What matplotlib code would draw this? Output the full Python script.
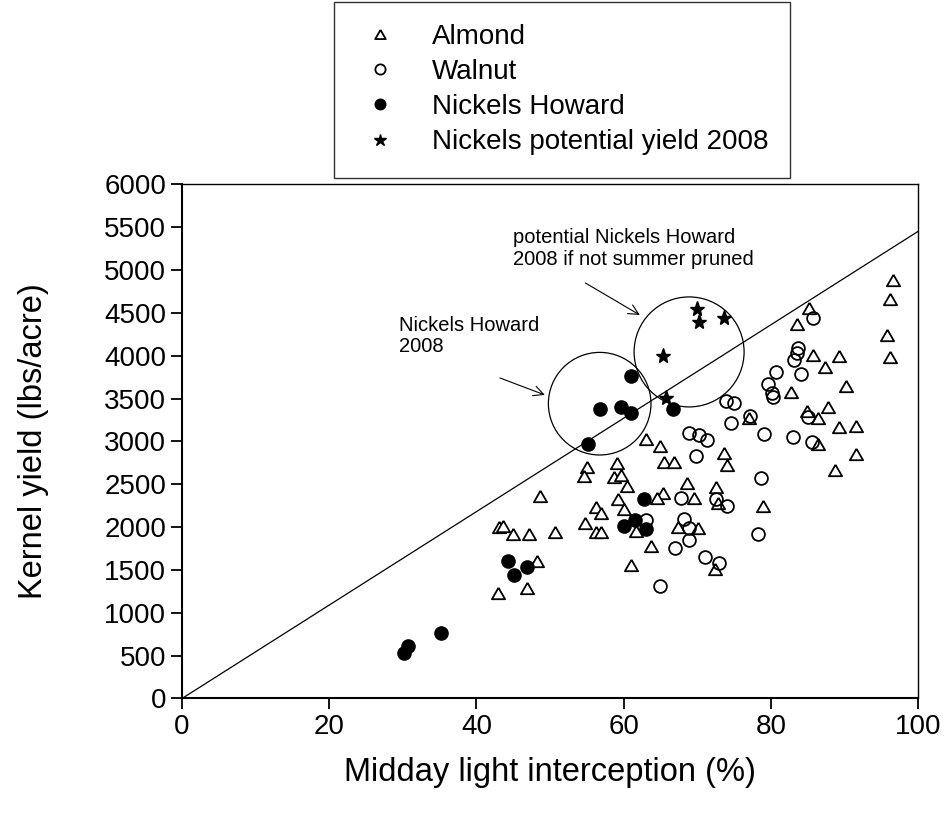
import matplotlib
matplotlib.use("Agg")
import matplotlib.pyplot as plt
from matplotlib.patches import Ellipse
import numpy as np

plt.rcParams["font.family"] = ["Liberation Sans", "DejaVu Sans"]

# Almond (open triangles)
almond_x = [96.6, 96.2, 85.2, 83.5, 95.8, 96.2, 85.8, 89.3, 87.4, 90.2, 82.7,
            87.8, 84.9, 86.4, 77.1, 89.3, 91.6, 86.4, 91.6, 88.7, 78.9,
            63.0, 65.0, 65.5, 66.8, 73.7, 74.1, 55.0, 54.6, 59.1, 58.7, 59.7,
            60.4, 68.6, 72.5, 65.4, 64.6, 69.6, 59.3, 56.3, 56.9, 60.1, 54.8,
            56.3, 56.9, 61.7, 67.4, 70.1, 72.8, 63.7, 61.0, 72.4,
            48.7, 43.1, 43.6, 45.0, 47.1, 50.7, 48.2, 42.9, 46.9]
almond_y = [4880, 4659, 4557, 4370, 4242, 3989, 4009, 4000, 3872, 3650, 3573,
            3398, 3359, 3270, 3277, 3172, 3180, 2970, 2850, 2667, 2246,
            3025, 2950, 2756, 2760, 2861, 2720, 2705, 2597, 2752, 2589, 2608,
            2480, 2511, 2472, 2395, 2343, 2343, 2325, 2231, 2168, 2208, 2044,
            1947, 1947, 1955, 2005, 1986, 2278, 1780, 1558, 1508,
            2363, 2005, 2013, 1916, 1916, 1947, 1608, 1235, 1286]

# Walnut (open circles)
walnut_x = [85.8, 83.7, 83.6, 83.2, 80.7, 84.1, 79.6, 80.1, 80.3, 77.2, 79.1,
            83.0, 85.6, 85.1, 78.7, 73.9, 75.0, 74.6, 68.9, 70.3, 71.4, 69.9,
            67.8, 72.6, 74.0, 63.0, 68.2, 68.9, 68.9, 67.0, 71.0, 73.0, 64.9,
            78.2]
walnut_y = [4444, 4087, 4036, 3950, 3814, 3784, 3667, 3569, 3522, 3300, 3087,
            3052, 2990, 3282, 2570, 3472, 3445, 3219, 3095, 3075, 3017, 2830,
            2336, 2325, 2246, 2083, 2091, 1986, 1850, 1753, 1655, 1585, 1316,
            1920]

# Nickels Howard (filled circles)
nickels_x = [30.2, 30.7, 35.2, 44.3, 45.1, 46.9, 55.1, 56.8, 59.6, 61.0, 61.0,
             66.7, 62.8, 60.1, 61.6, 63.1]
nickels_y = [527, 613, 768, 1600, 1441, 1531, 2970, 3378, 3398, 3328, 3764,
             3375, 2325, 2013, 2083, 1975]

# Nickels potential yield 2008 (stars)
potential_x = [70.0, 70.2, 73.7, 65.4, 65.7]
potential_y = [4550, 4392, 4437, 3991, 3507]

line_x = [0, 100]
line_y = [0, 5450]

tri = [(0, 0.866), (-1, -0.866), (1, -0.866), (0, 0.866)]

fig = plt.figure(figsize=(9.5, 8.18), dpi=100)
ax = fig.add_axes([0.1916, 0.1461, 0.7747, 0.6286])

ax.plot(line_x, line_y, color="black", lw=0.9, zorder=1)

ax.plot(almond_x, almond_y, ls="none", marker=tri, ms=9.5, mfc="white",
        mec="black", mew=1.3, label="Almond", zorder=3)
ax.plot(walnut_x, walnut_y, ls="none", marker="o", ms=9.2, mfc="none",
        mec="black", mew=1.3, label="Walnut", zorder=3)
ax.plot(nickels_x, nickels_y, ls="none", marker="o", ms=9.5, mfc="black",
        mec="black", label="Nickels Howard", zorder=4)
ax.plot(potential_x, potential_y, ls="none", marker="*", ms=11, mfc="black",
        mec="black", label="Nickels potential yield 2008", zorder=4)

# circles around the 2008 groups (round on screen)
px_x = 7.36
px_y = 0.0857
ax.add_patch(Ellipse((56.75, 3440), 2 * 51.3 / px_x, 2 * 51.3 / px_y,
                     fill=False, ec="black", lw=0.9, zorder=2))
ax.add_patch(Ellipse((68.9, 4044), 2 * 55 / px_x, 2 * 55 / px_y,
                     fill=False, ec="black", lw=0.9, zorder=2))

arrow = dict(arrowstyle="->", color="black", lw=0.8, shrinkA=0, shrinkB=0,
             mutation_scale=18)
ax.text(29.5, 4230, "Nickels Howard\n2008", fontsize=14.5, va="center",
        ha="left", linespacing=1.15)
ax.annotate("", xy=(49.3, 3542), xytext=(43.2, 3740), arrowprops=arrow)
ax.text(45.0, 5250, "potential Nickels Howard\n2008 if not summer pruned",
        fontsize=14.5, va="center", ha="left", linespacing=1.15)
ax.annotate("", xy=(62.2, 4475), xytext=(54.8, 4849), arrowprops=arrow)

ax.set_xlim(0, 100)
ax.set_ylim(0, 6000)
ax.set_xticks(np.arange(0, 101, 20))
ax.set_yticks(np.arange(0, 6001, 500))
ax.tick_params(direction="out", length=8, width=1.3, labelsize=20,
               top=False, right=False)
for s in ax.spines.values():
    s.set_linewidth(1.0)
ax.spines["left"].set_linewidth(1.5)
ax.spines["bottom"].set_linewidth(1.5)

ax.set_xlabel("Midday light interception (%)", fontsize=23.5, labelpad=12)
ax.set_ylabel("Kernel yield (lbs/acre)", fontsize=23.5)
ax.yaxis.set_label_coords(-0.181, 0.5)

leg = fig.legend(loc="upper left", bbox_to_anchor=(334 / 950, 0.998),
                 borderaxespad=0, fontsize=20, frameon=True, fancybox=False,
                 markerscale=0.8, handletextpad=1.0, borderpad=0.8,
                 labelspacing=0.33, handlelength=1.71)
leg.get_frame().set_edgecolor("black")
leg.get_frame().set_linewidth(1.0)

fig.savefig("out.png", dpi=100)
